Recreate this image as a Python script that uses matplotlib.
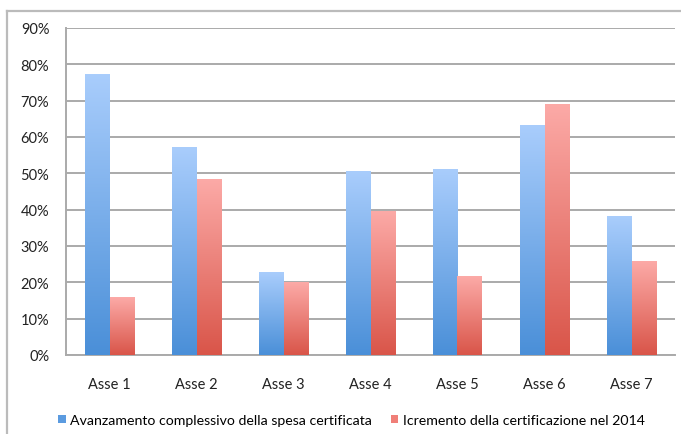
import numpy as np
import matplotlib
matplotlib.use("Agg")
import matplotlib.pyplot as plt
from matplotlib.colors import LinearSegmentedColormap
from matplotlib.lines import Line2D
from matplotlib.patches import Patch

plt.rcParams["font.family"] = ["Lato", "DejaVu Sans"]

categories = ["Asse 1", "Asse 2", "Asse 3", "Asse 4", "Asse 5", "Asse 6", "Asse 7"]
avanzamento = [77.2, 57.0, 22.7, 50.4, 51.0, 63.3, 38.1]
incremento = [15.9, 48.4, 20.0, 39.4, 21.5, 68.9, 25.7]
series_labels = ["Avanzamento complessivo della spesa certificata",
                 "Icremento della certificazione nel 2014"]
yticks = [0, 10, 20, 30, 40, 50, 60, 70, 80, 90]

blue_cmap = LinearSegmentedColormap.from_list("blue", ["#4a8fd8", "#a9cdfc"])
red_cmap = LinearSegmentedColormap.from_list("red", ["#d95549", "#fcaaa7"])

fig = plt.figure(figsize=(6.81, 4.35), dpi=100)
ax = fig.add_axes([66 / 681, 79 / 435, 609 / 681, 327 / 435])

x = np.arange(len(categories))
w = 0.28
grad = np.linspace(0, 1, 256).reshape(-1, 1)


def gradient_bars(xs, vals, cmap):
    bars = ax.bar(xs, vals, width=w, color="none", edgecolor="none", zorder=3)
    for b in bars:
        x0, y0 = b.get_x(), b.get_y()
        ax.imshow(grad, cmap=cmap, origin="lower", aspect="auto",
                  extent=(x0, x0 + b.get_width(), y0, y0 + b.get_height()),
                  zorder=3)
    return bars


gradient_bars(x - w / 2, avanzamento, blue_cmap)
gradient_bars(x + w / 2, incremento, red_cmap)

ax.set_xlim(-0.5, len(categories) - 0.5)
ax.set_ylim(0, 90)
ax.set_yticks(yticks)
ax.set_yticklabels([f"{v}%" for v in yticks])
ax.set_xticks(x)
ax.set_xticklabels(categories)
ax.tick_params(axis="y", length=0, pad=12, labelsize=10.5, colors="#222222")
ax.tick_params(axis="x", length=0, pad=16, labelsize=10.5, colors="#222222")
ax.grid(axis="y", color="#aaaaaa", lw=1.4, zorder=1)
for s in ["top", "right"]:
    ax.spines[s].set_visible(False)
ax.spines["left"].set_color("#aaaaaa")
ax.spines["left"].set_linewidth(1.4)
ax.spines["bottom"].set_color("#aaaaaa")
ax.spines["bottom"].set_linewidth(1.4)

handles = [Patch(facecolor="#5b9be0", edgecolor="none"),
           Patch(facecolor="#f07f78", edgecolor="none")]
fig.legend(handles, series_labels, loc="center", bbox_to_anchor=(0.516, 1 - 421 / 435),
           ncol=2, frameon=False, fontsize=10.2, handlelength=0.55, handleheight=0.55,
           handletextpad=0.3, columnspacing=1.3)

# outer chart frame
fig.add_artist(Line2D([7 / 681, 1], [1 - 12 / 435, 1 - 12 / 435],
                      color="#bbbbbb", lw=1.6, transform=fig.transFigure))
fig.add_artist(Line2D([7 / 681, 7 / 681], [0, 1 - 12 / 435],
                      color="#bbbbbb", lw=1.6, transform=fig.transFigure))

fig.savefig("out.png", dpi=100)
